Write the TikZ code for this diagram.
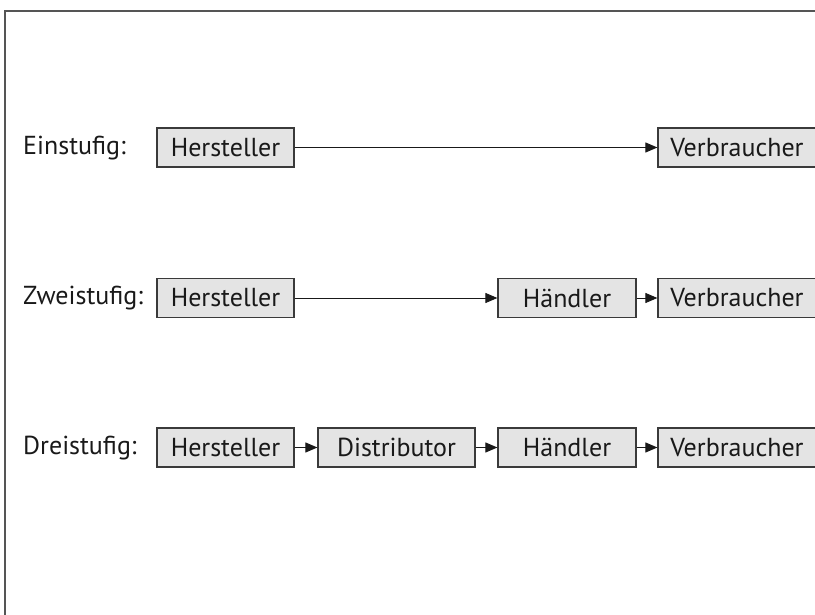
\documentclass[tikz,border=0pt]{standalone}
\usepackage{fontspec}
\setmainfont{PT Sans}
\usetikzlibrary{arrows.meta}
\definecolor{boxfill}{HTML}{E4E4E4}
\definecolor{boxdraw}{HTML}{3A3A3A}
\definecolor{framecol}{HTML}{555555}
\tikzset{
  stage/.style={draw=boxdraw, fill=boxfill, line width=1.2pt, minimum height=39pt, inner sep=0pt, font=\fontsize{26}{26}\selectfont, text=black!90},
  lbl/.style={anchor=west, inner sep=0pt, font=\fontsize{26}{26}\selectfont, text=black!90},
  conn/.style={draw=black!90, line width=1pt, -{Triangle[length=12pt,width=10pt]}}
}
\begin{document}
\begin{tikzpicture}[x=1pt,y=-1pt]
\useasboundingbox (0,0) rectangle (815,614);
\draw[framecol, line width=1.6pt] (5,620) -- (5,11) -- (820,11);
% row 1
\node[lbl] (l1) at (23,148) {Einstufig:};
\node[stage, minimum width=137pt] (h1) at (225.5,147.5) {Hersteller};
\node[stage, minimum width=158pt] (v1) at (737,147.5) {Verbraucher};
\draw[conn] (h1) -- (v1);
% row 2
\node[lbl] (l2) at (23,298) {Zweistufig:};
\node[stage, minimum width=137pt] (h2) at (225.5,298) {Hersteller};
\node[stage, minimum width=138pt] (d2) at (567,298) {Händler};
\node[stage, minimum width=158pt] (v2) at (737,298) {Verbraucher};
\draw[conn] (h2) -- (d2);
\draw[conn] (d2) -- (v2);
% row 3
\node[lbl] (l3) at (23,448) {Dreistufig:};
\node[stage, minimum width=137pt] (h3) at (225.5,447.5) {Hersteller};
\node[stage, minimum width=157pt] (s3) at (396.5,447.5) {Distributor};
\node[stage, minimum width=138pt] (d3) at (567,447.5) {Händler};
\node[stage, minimum width=158pt] (v3) at (737,447.5) {Verbraucher};
\draw[conn] (h3) -- (s3);
\draw[conn] (s3) -- (d3);
\draw[conn] (d3) -- (v3);
\end{tikzpicture}
\end{document}
